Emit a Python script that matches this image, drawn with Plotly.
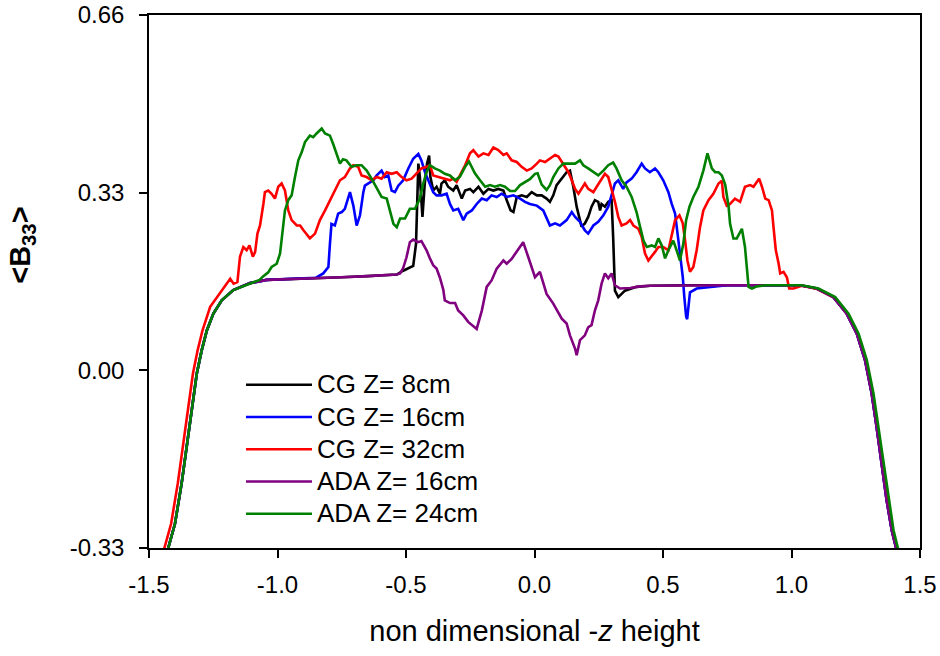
import plotly.graph_objects as go

FONT = "Arial, 'Liberation Sans', sans-serif"

# ---- shared edge profiles ----
left_x = [-1.428, -1.399, -1.373, -1.347, -1.327, -1.314, -1.295, -1.275, -1.250, -1.217,
          -1.172, -1.107, -1.042, -0.951, -0.850, -0.750, -0.650, -0.560]
left_y = [-0.335, -0.285, -0.210, -0.124, -0.050, -0.006, 0.037, 0.074, 0.105, 0.130,
          0.149, 0.162, 0.168, 0.170, 0.172, 0.173, 0.175, 0.177]

right_x = [0.450, 0.600, 0.750, 0.900, 1.033, 1.098, 1.163, 1.215, 1.254, 1.286,
           1.312, 1.331, 1.351, 1.370, 1.390, 1.409]
right_y = [0.157, 0.158, 0.158, 0.158, 0.158, 0.152, 0.136, 0.105, 0.068, 0.019,
           -0.043, -0.105, -0.179, -0.241, -0.297, -0.334]

green_right_x = [0.900, 1.040, 1.105, 1.170, 1.222, 1.261, 1.293, 1.319, 1.338, 1.358,
                 1.377, 1.397, 1.416]
green_right_y = [0.158, 0.158, 0.152, 0.136, 0.105, 0.068, 0.019, -0.043, -0.105, -0.179,
                 -0.241, -0.297, -0.334]

# ---- CG Z = 8cm ----
black_x = [-0.536, -0.511, -0.485, -0.472, -0.461, -0.456, -0.452, -0.446, -0.440, -0.436,
           -0.427, -0.418, -0.410, -0.405, -0.394, -0.381, -0.368, -0.362, -0.349, -0.336,
           -0.316, -0.303, -0.283, -0.270, -0.251, -0.238, -0.218, -0.199, -0.179, -0.160,
           -0.141, -0.121, -0.108, -0.093, -0.082, -0.069, -0.050, -0.030, -0.011, 0.009,
           0.028, 0.047, 0.060, 0.073, 0.086, 0.106, 0.125, 0.138, 0.151, 0.164,
           0.183, 0.196, 0.209, 0.222, 0.235, 0.248, 0.255, 0.261, 0.274, 0.287,
           0.300, 0.306, 0.313, 0.326, 0.352, 0.397]
black_y = [0.178, 0.185, 0.190, 0.194, 0.235, 0.328, 0.384, 0.359, 0.297, 0.285,
           0.347, 0.384, 0.399, 0.359, 0.334, 0.341, 0.328, 0.347, 0.353, 0.341,
           0.334, 0.344, 0.319, 0.334, 0.337, 0.331, 0.341, 0.328, 0.337, 0.334,
           0.337, 0.334, 0.316, 0.297, 0.294, 0.322, 0.325, 0.322, 0.331, 0.325,
           0.325, 0.319, 0.313, 0.325, 0.344, 0.356, 0.368, 0.371, 0.341, 0.304,
           0.267, 0.273, 0.285, 0.304, 0.316, 0.313, 0.297, 0.309, 0.304, 0.313,
           0.316, 0.248, 0.148, 0.136, 0.148, 0.155]

# ---- CG Z = 16cm ----
blue_x = [-0.822, -0.802, -0.796, -0.790, -0.777, -0.764, -0.750, -0.738, -0.718, -0.705,
          -0.692, -0.679, -0.666, -0.660, -0.640, -0.627, -0.614, -0.595, -0.582, -0.569,
          -0.556, -0.543, -0.530, -0.511, -0.491, -0.472, -0.452, -0.440, -0.427, -0.414,
          -0.394, -0.381, -0.362, -0.342, -0.329, -0.316, -0.297, -0.277, -0.264, -0.244,
          -0.225, -0.205, -0.186, -0.167, -0.147, -0.128, -0.108, -0.082, -0.056, -0.037,
          -0.018, 0.009, 0.034, 0.060, 0.080, 0.099, 0.125, 0.145, 0.158, 0.177,
          0.196, 0.209, 0.229, 0.248, 0.268, 0.287, 0.300, 0.313, 0.326, 0.345,
          0.358, 0.378, 0.397, 0.417, 0.430, 0.449, 0.469, 0.482, 0.501, 0.521,
          0.534, 0.547, 0.560, 0.569, 0.577, 0.583, 0.590, 0.594, 0.605, 0.631, 0.696]
blue_y = [0.180, 0.192, 0.235, 0.272, 0.269, 0.291, 0.294, 0.300, 0.331, 0.306,
          0.269, 0.288, 0.331, 0.343, 0.349, 0.353, 0.362, 0.371, 0.359, 0.362,
          0.334, 0.331, 0.343, 0.353, 0.375, 0.393, 0.402, 0.390, 0.369, 0.353,
          0.331, 0.325, 0.325, 0.328, 0.309, 0.297, 0.300, 0.279, 0.291, 0.297,
          0.309, 0.319, 0.316, 0.325, 0.322, 0.328, 0.322, 0.325, 0.319, 0.313,
          0.309, 0.306, 0.297, 0.269, 0.273, 0.269, 0.279, 0.294, 0.285, 0.276,
          0.260, 0.254, 0.269, 0.276, 0.288, 0.304, 0.328, 0.347, 0.353, 0.337,
          0.349, 0.356, 0.368, 0.384, 0.375, 0.368, 0.375, 0.368, 0.353, 0.331,
          0.309, 0.291, 0.241, 0.210, 0.173, 0.136, 0.100, 0.095, 0.145, 0.152, 0.156]

# ---- CG Z = 32cm (full profile) ----
red_x = [-1.443, -1.414, -1.388, -1.362, -1.342, -1.329, -1.311, -1.292, -1.262, -1.236,
         -1.210, -1.184, -1.171, -1.156, -1.146, -1.133, -1.120, -1.109, -1.096, -1.087,
         -1.078, -1.068, -1.055, -1.049, -1.036, -1.023, -1.010, -0.997, -0.984, -0.971,
         -0.958, -0.945, -0.925, -0.912, -0.899, -0.886, -0.874, -0.854, -0.835, -0.815,
         -0.796, -0.777, -0.757, -0.738, -0.718, -0.705, -0.686, -0.673, -0.653, -0.634,
         -0.614, -0.595, -0.575, -0.556, -0.536, -0.517, -0.498, -0.478, -0.459, -0.440,
         -0.420, -0.407, -0.394, -0.375, -0.355, -0.329, -0.316, -0.303, -0.290, -0.270,
         -0.251, -0.238, -0.218, -0.199, -0.179, -0.160, -0.141, -0.121, -0.108, -0.089,
         -0.069, -0.050, -0.030, -0.011, 0.009, 0.021, 0.041, 0.060, 0.080, 0.093,
         0.106, 0.119, 0.132, 0.145, 0.158, 0.171, 0.183, 0.196, 0.209, 0.229,
         0.242, 0.261, 0.274, 0.287, 0.300, 0.313, 0.326, 0.339, 0.358, 0.372,
         0.385, 0.404, 0.417, 0.430, 0.443, 0.456, 0.469, 0.482, 0.501, 0.521,
         0.534, 0.547, 0.564, 0.577, 0.586, 0.595, 0.605, 0.618, 0.631, 0.644,
         0.657, 0.677, 0.696, 0.716, 0.729, 0.735, 0.748, 0.761, 0.780, 0.800,
         0.819, 0.839, 0.852, 0.865, 0.874, 0.885, 0.898, 0.911, 0.924, 0.930,
         0.939, 0.950, 0.956, 0.969, 0.982, 0.991, 1.008, 1.040, 1.101, 1.166,
         1.218, 1.257, 1.289, 1.315, 1.334, 1.354, 1.373, 1.393, 1.412]
red_y = [-0.335, -0.285, -0.210, -0.124, -0.050, -0.006, 0.037, 0.074, 0.118, 0.136,
         0.152, 0.170, 0.161, 0.164, 0.211, 0.229, 0.223, 0.232, 0.211, 0.220,
         0.254, 0.269, 0.309, 0.331, 0.334, 0.328, 0.319, 0.341, 0.347, 0.334,
         0.297, 0.279, 0.269, 0.269, 0.260, 0.251, 0.245, 0.254, 0.279, 0.297,
         0.316, 0.334, 0.353, 0.359, 0.375, 0.381, 0.378, 0.362, 0.359, 0.353,
         0.359, 0.356, 0.368, 0.365, 0.368, 0.359, 0.353, 0.356, 0.365, 0.375,
         0.378, 0.381, 0.362, 0.359, 0.356, 0.353, 0.356, 0.350, 0.362, 0.381,
         0.403, 0.409, 0.397, 0.403, 0.400, 0.414, 0.409, 0.400, 0.403, 0.390,
         0.387, 0.378, 0.371, 0.375, 0.384, 0.390, 0.387, 0.393, 0.400, 0.397,
         0.387, 0.378, 0.368, 0.353, 0.337, 0.328, 0.337, 0.347, 0.337, 0.331,
         0.341, 0.356, 0.365, 0.359, 0.337, 0.313, 0.285, 0.269, 0.273, 0.279,
         0.269, 0.263, 0.248, 0.217, 0.204, 0.211, 0.220, 0.229, 0.229, 0.223,
         0.254, 0.279, 0.288, 0.273, 0.241, 0.204, 0.183, 0.192, 0.223, 0.266,
         0.297, 0.316, 0.328, 0.347, 0.352, 0.322, 0.306, 0.309, 0.319, 0.313,
         0.341, 0.344, 0.341, 0.350, 0.356, 0.341, 0.319, 0.316, 0.297, 0.266,
         0.223, 0.198, 0.180, 0.183, 0.173, 0.152, 0.152, 0.157, 0.151, 0.135,
         0.104, 0.067, 0.018, -0.044, -0.106, -0.180, -0.242, -0.298, -0.335]

# ---- ADA Z = 16cm ----
purple_x = [-0.536, -0.523, -0.511, -0.498, -0.485, -0.472, -0.453, -0.440, -0.420, -0.407,
            -0.394, -0.381, -0.368, -0.355, -0.349, -0.329, -0.309, -0.297, -0.277, -0.258,
            -0.244, -0.225, -0.205, -0.186, -0.167, -0.147, -0.121, -0.108, -0.089, -0.069,
            -0.044, -0.024, 0.002, 0.021, 0.047, 0.073, 0.106, 0.125, 0.138, 0.158,
            0.164, 0.177, 0.196, 0.209, 0.222, 0.235, 0.248, 0.261, 0.274, 0.287,
            0.300, 0.313, 0.333, 0.372, 0.411]
purple_y = [0.178, 0.180, 0.190, 0.210, 0.238, 0.243, 0.238, 0.240, 0.223, 0.208,
            0.195, 0.189, 0.172, 0.150, 0.130, 0.125, 0.125, 0.111, 0.102, 0.090,
            0.084, 0.077, 0.111, 0.155, 0.167, 0.189, 0.204, 0.198, 0.207, 0.220,
            0.238, 0.210, 0.173, 0.183, 0.142, 0.124, 0.096, 0.087, 0.065, 0.040,
            0.028, 0.056, 0.065, 0.080, 0.084, 0.111, 0.130, 0.161, 0.180, 0.171,
            0.180, 0.158, 0.152, 0.153, 0.156]

# ---- ADA Z = 24cm ----
green_x = [-1.070, -1.055, -1.036, -1.023, -1.003, -0.990, -0.980, -0.971, -0.958, -0.945,
           -0.932, -0.919, -0.906, -0.893, -0.874, -0.861, -0.848, -0.828, -0.815, -0.796,
           -0.783, -0.770, -0.757, -0.745, -0.732, -0.712, -0.692, -0.673, -0.653, -0.634,
           -0.614, -0.595, -0.575, -0.562, -0.549, -0.536, -0.523, -0.504, -0.485, -0.465,
           -0.446, -0.433, -0.420, -0.407, -0.388, -0.368, -0.349, -0.329, -0.309, -0.290,
           -0.270, -0.255, -0.232, -0.212, -0.192, -0.173, -0.154, -0.134, -0.115, -0.095,
           -0.076, -0.056, -0.037, -0.018, 0.002, 0.012, 0.028, 0.047, 0.060, 0.073,
           0.093, 0.112, 0.138, 0.158, 0.177, 0.190, 0.209, 0.229, 0.248, 0.268,
           0.287, 0.306, 0.319, 0.339, 0.358, 0.378, 0.397, 0.411, 0.424, 0.437,
           0.456, 0.469, 0.482, 0.495, 0.508, 0.521, 0.540, 0.553, 0.566, 0.579,
           0.590, 0.603, 0.618, 0.638, 0.657, 0.673, 0.690, 0.703, 0.716, 0.729,
           0.742, 0.755, 0.761, 0.774, 0.787, 0.807, 0.819, 0.833, 0.846, 0.865]
green_y = [0.168, 0.175, 0.182, 0.192, 0.198, 0.217, 0.260, 0.297, 0.316, 0.325,
           0.359, 0.390, 0.405, 0.424, 0.436, 0.433, 0.440, 0.449, 0.440, 0.436,
           0.420, 0.402, 0.384, 0.392, 0.390, 0.378, 0.381, 0.381, 0.371, 0.356,
           0.337, 0.322, 0.319, 0.297, 0.272, 0.266, 0.282, 0.282, 0.300, 0.300,
           0.319, 0.347, 0.368, 0.381, 0.375, 0.371, 0.365, 0.362, 0.353, 0.360,
           0.378, 0.388, 0.366, 0.353, 0.341, 0.344, 0.341, 0.344, 0.341, 0.333,
           0.333, 0.344, 0.350, 0.355, 0.365, 0.366, 0.345, 0.335, 0.344, 0.359,
           0.375, 0.384, 0.384, 0.384, 0.390, 0.381, 0.375, 0.368, 0.362, 0.371,
           0.381, 0.386, 0.375, 0.353, 0.341, 0.322, 0.294, 0.266, 0.241, 0.229,
           0.232, 0.229, 0.245, 0.232, 0.208, 0.223, 0.241, 0.223, 0.204, 0.235,
           0.279, 0.304, 0.322, 0.341, 0.371, 0.403, 0.375, 0.368, 0.368, 0.362,
           0.345, 0.305, 0.272, 0.245, 0.245, 0.263, 0.229, 0.155, 0.152, 0.156]

series_names = ["CG Z= 8cm", "CG Z= 16cm", "CG Z= 32cm", "ADA Z= 16cm", "ADA Z= 24cm"]
series_colors = ["#000000", "#0000FF", "#FF0000", "#800080", "#008000"]


def assemble(mid_x, mid_y, lx, ly, rx, ry):
    xs, ys = [], []
    for a, b in zip(lx, ly):
        if a < mid_x[0]:
            xs.append(a)
            ys.append(b)
    xs += mid_x
    ys += mid_y
    for a, b in zip(rx, ry):
        if a > mid_x[-1]:
            xs.append(a)
            ys.append(b)
    return xs, ys


profiles = [
    assemble(black_x, black_y, left_x, left_y, right_x, right_y),
    assemble(blue_x, blue_y, left_x, left_y, right_x, right_y),
    (red_x, red_y),
    assemble(purple_x, purple_y, left_x, left_y, right_x, right_y),
    assemble(green_x, green_y, left_x, left_y, green_right_x, green_right_y),
]

fig = go.Figure()
for i, ((xs, ys), name, col) in enumerate(zip(profiles, series_names, series_colors)):
    fig.add_trace(go.Scatter(x=xs, y=ys, mode="lines",
                             name=f"<span style='font-size:26px'>{name}</span>",
                             legendgroup=f"g{i}",
                             line=dict(color=col, width=2.6)))

x_ticks = [-1.5, -1.0, -0.5, 0.0, 0.5, 1.0, 1.5]
x_ticktext = ["-1.5", "-1.0", "-0.5", "0.0", "0.5", "1.0", "1.5"]
y_ticks = [-0.33, 0.0, 0.33, 0.66]
y_ticktext = ["-0.33", "0.00", "0.33", "0.66"]

fig.update_layout(
    width=940, height=656,
    margin=dict(l=149, r=20, t=15, b=108),
    paper_bgcolor="white", plot_bgcolor="white",
    font=dict(family=FONT, color="black"),
    showlegend=True,
    legend=dict(x=0.1193, y=0.346, xanchor="left", yanchor="top",
                bgcolor="rgba(0,0,0,0)", font=dict(size=22.5, family=FONT),
                itemwidth=66, tracegroupgap=0),
    xaxis=dict(range=[-1.5, 1.5], tickvals=x_ticks, ticktext=x_ticktext,
               ticks="outside", ticklen=8, tickwidth=1.5, tickcolor="black",
               showline=True, linecolor="black", linewidth=1.5, mirror=True,
               showgrid=False, zeroline=False, automargin=False,
               ticklabelstandoff=6,
               tickfont=dict(size=24, family=FONT),
               title=dict(text="non dimensional -<i>z</i> height",
                          font=dict(size=29, family=FONT), standoff=24)),
    yaxis=dict(range=[-0.33, 0.66], tickvals=y_ticks, ticktext=y_ticktext,
               ticks="outside", ticklen=8, tickwidth=1.5, tickcolor="black",
               showline=True, linecolor="black", linewidth=1.5, mirror=True,
               showgrid=False, zeroline=False, automargin=False,
               ticklabelstandoff=10, ticklabeloverflow="allow",
               tickfont=dict(size=24, family=FONT)),
    annotations=[dict(text="<b>&lt;B<sub>33</sub>&gt;</b>", textangle=-90,
                      xref="paper", yref="paper", x=-0.1647, y=0.567,
                      xanchor="center", yanchor="middle", showarrow=False,
                      font=dict(size=29, family=FONT))],
)

fig.write_html("out.html", config={"displayModeBar": False},
               post_script="document.body.style.margin='0px';")
